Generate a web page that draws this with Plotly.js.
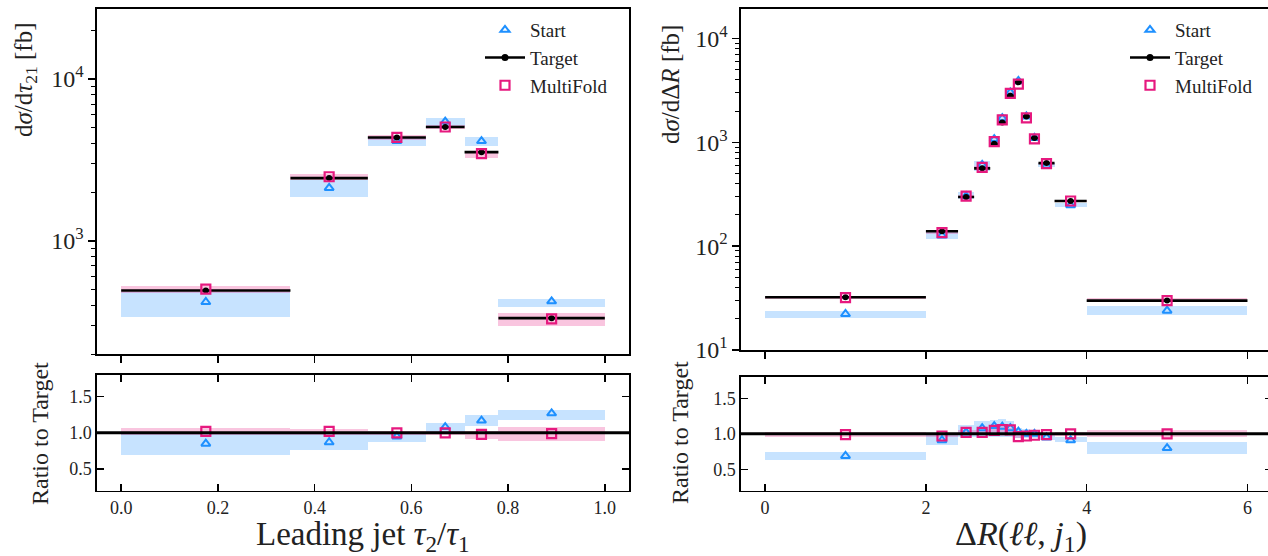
<!DOCTYPE html>
<html>
<head>
<meta charset="utf-8">
<script src="https://cdn.plot.ly/plotly-3.0.1.min.js"></script>
<style>
html,body{margin:0;padding:0;overflow:hidden;background:#fff;width:1268px;height:556px;}
#chart{width:1276px;height:556px;}
</style>
</head>
<body>
<div id="chart"></div>
<script>
// ---------- Left panel: leading jet tau2/tau1 ----------
const tauEdges       = [0, 0.35, 0.51, 0.63, 0.71, 0.78, 1.0];
const tauTarget      = [493, 2440, 4350, 5050, 3530, 333];
const tauStartRatio  = [0.85, 0.87, 0.95, 1.08, 1.17, 1.27];
const tauMfRatio     = [1.02, 1.02, 1.00, 1.00, 0.98, 0.99];
const tauStartLo     = [0.69, 0.76, 0.88, 1.00, 1.09, 1.18];
const tauStartHi     = [0.98, 0.98, 1.00, 1.14, 1.24, 1.32];
const tauMfLo        = [0.97, 0.97, 0.97, 0.97, 0.92, 0.89];
const tauMfHi        = [1.07, 1.06, 1.03, 1.03, 1.02, 1.08];
const tauLogTicks    = [1000, 10000];
const tauLogLabels   = ['10<sup>3</sup>', '10<sup>4</sup>'];

// ---------- Right panel: Delta R(ll, j1) ----------
const drEdges      = [0, 2.0, 2.4, 2.6, 2.8, 2.9, 3.0, 3.1, 3.2, 3.3, 3.4, 3.6, 4.0, 6.0];
const drTarget     = [32.2, 139, 297, 561, 967, 1552, 2800, 3780, 1773, 1099, 630, 272, 29.9];
const drStartRatio = [0.69, 0.91, 1.02, 1.08, 1.11, 1.10, 1.08, 1.03, 1.00, 1.00, 0.95, 0.91, 0.80];
const drMfRatio    = [0.99, 0.97, 1.02, 1.02, 1.05, 1.06, 1.055, 0.96, 0.97, 0.98, 0.99, 1.00, 1.00];
const drStartLo    = [0.63, 0.84, 0.95, 0.95, 0.96, 0.96, 0.96, 0.94, 0.94, 0.94, 0.92, 0.88, 0.72];
const drStartHi    = [0.74, 0.99, 1.12, 1.18, 1.20, 1.21, 1.18, 1.08, 1.07, 1.06, 1.00, 0.95, 0.89];
const drMfLo       = [0.96, 0.95, 0.99, 0.99, 1.02, 1.03, 1.03, 0.94, 0.95, 0.97, 0.97, 0.97, 0.96];
const drMfHi       = [1.03, 0.99, 1.05, 1.05, 1.08, 1.09, 1.08, 0.98, 0.99, 1.01, 1.01, 1.03, 1.05];
const drLogTicks   = [10, 100, 1000, 10000];
const drLogLabels  = ['10<sup>1</sup>', '10<sup>2</sup>', '10<sup>3</sup>', '10<sup>4</sup>'];

const ratioRef = 1.0;
const ratioTicks = [0.5, 1.0, 1.5];
const legendNames = ['Start', 'Target', 'MultiFold'];

// ---------- styles ----------
const FONT = "'Liberation Serif', 'DejaVu Serif', serif";
const BLUE = '#1e90ff', PINK = '#e6197f';
const BLUE_BAND = 'rgba(30,144,255,0.25)', PINK_BAND = 'rgba(231,41,138,0.27)';
const W = 1276, H = 556;
const px = v => v / W, py = v => 1 - v / H;

function centers(e){ return e.slice(0,-1).map((v,i)=>(v+e[i+1])/2); }
function widths(e){ return e.slice(0,-1).map((v,i)=>e[i+1]-v); }

const traces = [];
function band(xa, ya, e, lo, hi, scale, color){
  traces.push({type:'bar', x:centers(e), width:widths(e),
    base: lo.map((v,i)=>v*scale[i]), y: hi.map((v,i)=>(v-lo[i])*scale[i]),
    marker:{color:color, line:{width:0}}, xaxis:xa, yaxis:ya, showlegend:false, hoverinfo:'skip'});
}
function panel(e, target, sR, mR, sLo, sHi, mLo, mHi, xa, ya, xr, yr, leg){
  const c = centers(e), hw = widths(e).map(w=>w/2);
  const ones = target.map(()=>1);
  // top panel
  band(xa, ya, e, sLo, sHi, target, BLUE_BAND);
  band(xa, ya, e, mLo, mHi, target, PINK_BAND);
  traces.push({type:'scatter', mode:'markers', x:c, y:sR.map((r,i)=>r*target[i]),
    marker:{symbol:'triangle-up-open', size:8, color:BLUE, line:{width:2, color:BLUE}},
    xaxis:xa, yaxis:ya, name:legendNames[0], legend:leg, legendrank:1, hoverinfo:'skip'});
  traces.push({type:'scatter', mode:'markers', x:c, y:target,
    error_x:{type:'data', array:hw, width:0, thickness:2.6, color:'black'},
    marker:{symbol:'circle', size:6, color:'black'},
    xaxis:xa, yaxis:ya, showlegend:false, hoverinfo:'skip'});
  traces.push({type:'scatter', mode:'lines+markers', x:[null], y:[null],
    line:{color:'black', width:2.6}, marker:{symbol:'circle', size:7, color:'black'},
    xaxis:xa, yaxis:ya, name:legendNames[1], legend:leg, legendrank:2});
  traces.push({type:'scatter', mode:'markers', x:c, y:mR.map((r,i)=>r*target[i]),
    marker:{symbol:'square-open', size:9, color:PINK, line:{width:2.2, color:PINK}},
    xaxis:xa, yaxis:ya, name:legendNames[2], legend:leg, legendrank:3, hoverinfo:'skip'});
  // ratio panel
  band(xr, yr, e, sLo, sHi, ones, BLUE_BAND);
  band(xr, yr, e, mLo, mHi, ones, PINK_BAND);
  traces.push({type:'scatter', mode:'markers', x:c, y:sR,
    marker:{symbol:'triangle-up-open', size:8, color:BLUE, line:{width:2, color:BLUE}},
    xaxis:xr, yaxis:yr, showlegend:false, hoverinfo:'skip'});
  traces.push({type:'scatter', mode:'markers', x:c, y:mR,
    marker:{symbol:'square-open', size:9, color:PINK, line:{width:2.2, color:PINK}},
    xaxis:xr, yaxis:yr, showlegend:false, hoverinfo:'skip'});
}
panel(tauEdges, tauTarget, tauStartRatio, tauMfRatio, tauStartLo, tauStartHi, tauMfLo, tauMfHi, 'x','y','x2','y2','legend');
panel(drEdges, drTarget, drStartRatio, drMfRatio, drStartLo, drStartHi, drMfLo, drMfHi, 'x3','y3','x4','y4','legend2');

const axBase = {showline:true, linecolor:'black', linewidth:1.6, showgrid:false, zeroline:false,
  tickcolor:'black', tickwidth:1.4, ticklen:7, tickfont:{family:FONT, size:18, color:'#222'}};
const logY = (dom, rng, tv, tt) => Object.assign({}, axBase, {type:'log', domain:dom, range:rng,
  tickvals:tv, ticktext:tt, ticks:'outside', mirror:true, tickfont:{family:FONT, size:24, color:'#222'},
  minor:{ticks:'outside', ticklen:4, tickwidth:1, tickcolor:'black', dtick:'D1', showgrid:false}});
const topX = (dom, rng, dt, anchor) => Object.assign({}, axBase, {domain:dom, range:rng, dtick:dt, tick0:0,
  ticks:'outside', mirror:true, showticklabels:false, anchor:anchor});
const ratX = (dom, rng, dt, fmt, anchor) => Object.assign({}, axBase, {domain:dom, range:rng, dtick:dt, tick0:0,
  ticks:'inside', mirror:'allticks', tickformat:fmt, anchor:anchor});
const ratY = (dom, anchor) => Object.assign({}, axBase, {domain:dom, range:[0.2,1.8],
  tickvals:ratioTicks, tickformat:'.1f', ticks:'inside', mirror:'allticks', anchor:anchor});

const leftDom = [px(97), px(629)], rightDom = [px(741), px(1271.6)];
const legFont = {family:FONT, size:19, color:'#222'};

const layout = {
  width:W, height:H, margin:{l:0,r:0,t:0,b:0},
  paper_bgcolor:'white', plot_bgcolor:'white', barmode:'overlay', bargap:0,
  font:{family:FONT, color:'#222'},
  xaxis: topX(leftDom, [-0.05,1.05], 0.2, 'y'),
  yaxis: Object.assign(logY([py(354), py(9)], [Math.log10(200), 4.432], tauLogTicks, tauLogLabels), {anchor:'x'}),
  xaxis2: ratX(leftDom, [-0.05,1.05], 0.2, '.1f', 'y2'),
  yaxis2: ratY([py(490.7), py(375)], 'x2'),
  xaxis3: topX(rightDom, [-0.3,6.3], 2, 'y3'),
  yaxis3: Object.assign(logY([py(350), py(9)], [1, 4.283], drLogTicks, drLogLabels), {anchor:'x3'}),
  xaxis4: ratX(rightDom, [-0.3,6.3], 2, 'd', 'y4'),
  yaxis4: ratY([py(490.7), py(377)], 'x4'),
  legend:{x:px(480), y:py(11), xanchor:'left', yanchor:'top', bgcolor:'rgba(0,0,0,0)',
    font:legFont, itemwidth:40, tracegroupgap:0},
  legend2:{x:px(1125), y:py(11), xanchor:'left', yanchor:'top', bgcolor:'rgba(0,0,0,0)',
    font:legFont, itemwidth:40, tracegroupgap:0},
  shapes:[
    {type:'line', xref:'x2 domain', yref:'y2', x0:0, x1:1, y0:ratioRef, y1:ratioRef, line:{color:'black', width:3}},
    {type:'line', xref:'x4 domain', yref:'y4', x0:0, x1:1, y0:ratioRef, y1:ratioRef, line:{color:'black', width:3}}
  ],
  annotations:[
    {text:'d<i>σ</i>/d<i>τ</i><sub>21</sub> [fb]', textangle:-90, xref:'paper', yref:'paper', x:px(25), y:py(80),
      xanchor:'center', yanchor:'middle', showarrow:false, font:{family:FONT, size:25, color:'#222'}},
    {text:'d<i>σ</i>/dΔ<i>R</i> [fb]', textangle:-90, xref:'paper', yref:'paper', x:px(671), y:py(85),
      xanchor:'center', yanchor:'middle', showarrow:false, font:{family:FONT, size:25, color:'#222'}},
    {text:'Ratio to Target', textangle:-90, xref:'paper', yref:'paper', x:px(40), y:py(433),
      xanchor:'center', yanchor:'middle', showarrow:false, font:{family:FONT, size:24, color:'#222'}},
    {text:'Ratio to Target', textangle:-90, xref:'paper', yref:'paper', x:px(680), y:py(433),
      xanchor:'center', yanchor:'middle', showarrow:false, font:{family:FONT, size:24, color:'#222'}},
    {text:'Leading jet <i>τ</i><sub>2</sub>/<i>τ</i><sub>1</sub>', xref:'paper', yref:'paper', x:px(363), y:py(536),
      xanchor:'center', yanchor:'middle', showarrow:false, font:{family:FONT, size:33, color:'#222'}},
    {text:'Δ<i>R</i>(<i>ℓℓ</i>, <i>j</i><sub>1</sub>)', xref:'paper', yref:'paper', x:px(1021), y:py(536),
      xanchor:'center', yanchor:'middle', showarrow:false, font:{family:FONT, size:34, color:'#222'}}
  ]
};
layout.xaxis.matches = 'x2';
layout.xaxis3.matches = 'x4';

Plotly.newPlot('chart', traces, layout, {staticPlot:true, displayModeBar:false, responsive:false});
</script>
</body>
</html>
